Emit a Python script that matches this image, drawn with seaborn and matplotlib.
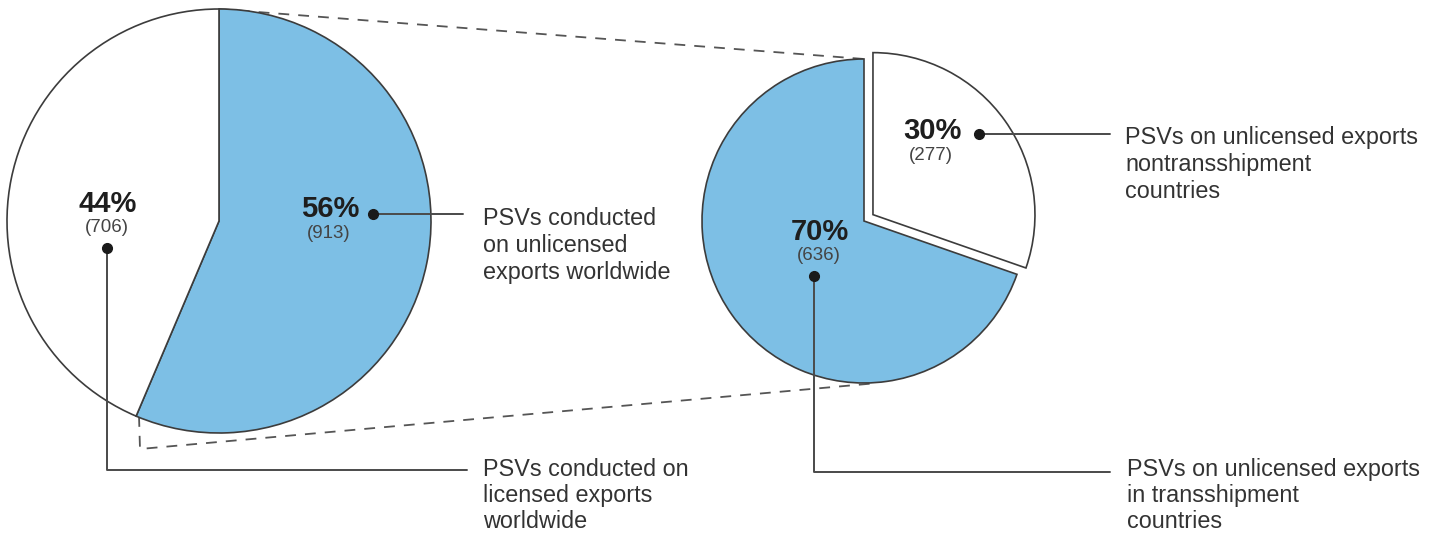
import matplotlib
matplotlib.use("Agg")
import matplotlib.pyplot as plt
import seaborn as sns

# data
worldwide_labels = ["unlicensed", "licensed"]
worldwide_counts = [913, 706]
unlicensed_labels = ["nontransshipment", "transshipment"]
unlicensed_counts = [277, 636]

text_worldwide_unlic = ["PSVs conducted", "on unlicensed", "exports worldwide"]
text_worldwide_lic = ["PSVs conducted on", "licensed exports", "worldwide"]
text_nontrans = ["PSVs on unlicensed exports", "nontransshipment", "countries"]
text_trans = ["PSVs on unlicensed exports", "in transshipment", "countries"]

sns.set_theme(style="white")
plt.rcParams["font.family"] = ["Liberation Sans", "DejaVu Sans"]

BLUE = "#7dbfe5"
EDGE = "#3c3c3c"
LINE = "#4a4a4a"
TXT = "#333333"

W, H = 1442, 533
fig = plt.figure(figsize=(W / 100, H / 100), dpi=100)
ax = fig.add_axes([0, 0, 1, 1])

# pixel style coords, y grows downwards -> start at 270 and go counterclockwise in data
left_c, left_r = (219, 221), 212
right_c, right_r = (864, 221), 162

ax.pie(worldwide_counts, colors=[BLUE, "white"], center=left_c, radius=left_r,
       startangle=270, counterclock=True,
       wedgeprops=dict(edgecolor=EDGE, linewidth=1.2))
ax.pie(unlicensed_counts, colors=["white", BLUE], center=right_c, radius=right_r,
       startangle=270, counterclock=True, explode=[11, 0],
       wedgeprops=dict(edgecolor=EDGE, linewidth=1.2))

ax.set_xlim(0, W)
ax.set_ylim(H, 0)
ax.set_aspect("auto")
ax.axis("off")

# dashed zoom lines behind the pies
dash = dict(color="#555555", linewidth=1.3, linestyle=(0, (6, 5)), zorder=0.5)
ax.plot([left_c[0], right_c[0]], [left_c[1] - left_r, right_c[1] - right_r], **dash)
ax.plot([139, 140, 878], [416, 449, 383], **dash)


def pct(vals, i):
    return f"{100 * vals[i] / sum(vals):.0f}%"


def big_label(x, y, vals, i):
    ax.text(x, y, pct(vals, i), ha="center", va="center", fontsize=21,
            fontweight="bold", color="#1e1e1e", zorder=5)
    ax.text(x - 1, y + 24, f"({vals[i]})", ha="center", va="center",
            fontsize=13.5, color="#444444", zorder=5)


def callout(xs, ys, lines, tx, ty, step=27):
    ax.plot(xs, ys, color=LINE, linewidth=1.4, zorder=4)
    ax.plot(xs[0], ys[0], "o", color="#1a1a1a", markersize=7, zorder=5)
    for k, line in enumerate(lines):
        ax.text(tx, ty + k * step, line, ha="left", va="center_baseline",
                fontsize=16.8, color=TXT)


big_label(330, 209, worldwide_counts, 0)
big_label(108, 204, worldwide_counts, 1)
big_label(932, 131, unlicensed_counts, 0)
big_label(820, 232, unlicensed_counts, 1)

callout([373, 463], [214, 214], text_worldwide_unlic, 483, 216)
callout([107, 107, 467], [248, 470, 470], text_worldwide_lic, 483, 467, 26)
callout([979, 1110], [134, 134], text_nontrans, 1125, 135)
callout([814, 814, 1110], [276, 472, 472], text_trans, 1127, 467, 26)

fig.savefig("out.png", dpi=100)
